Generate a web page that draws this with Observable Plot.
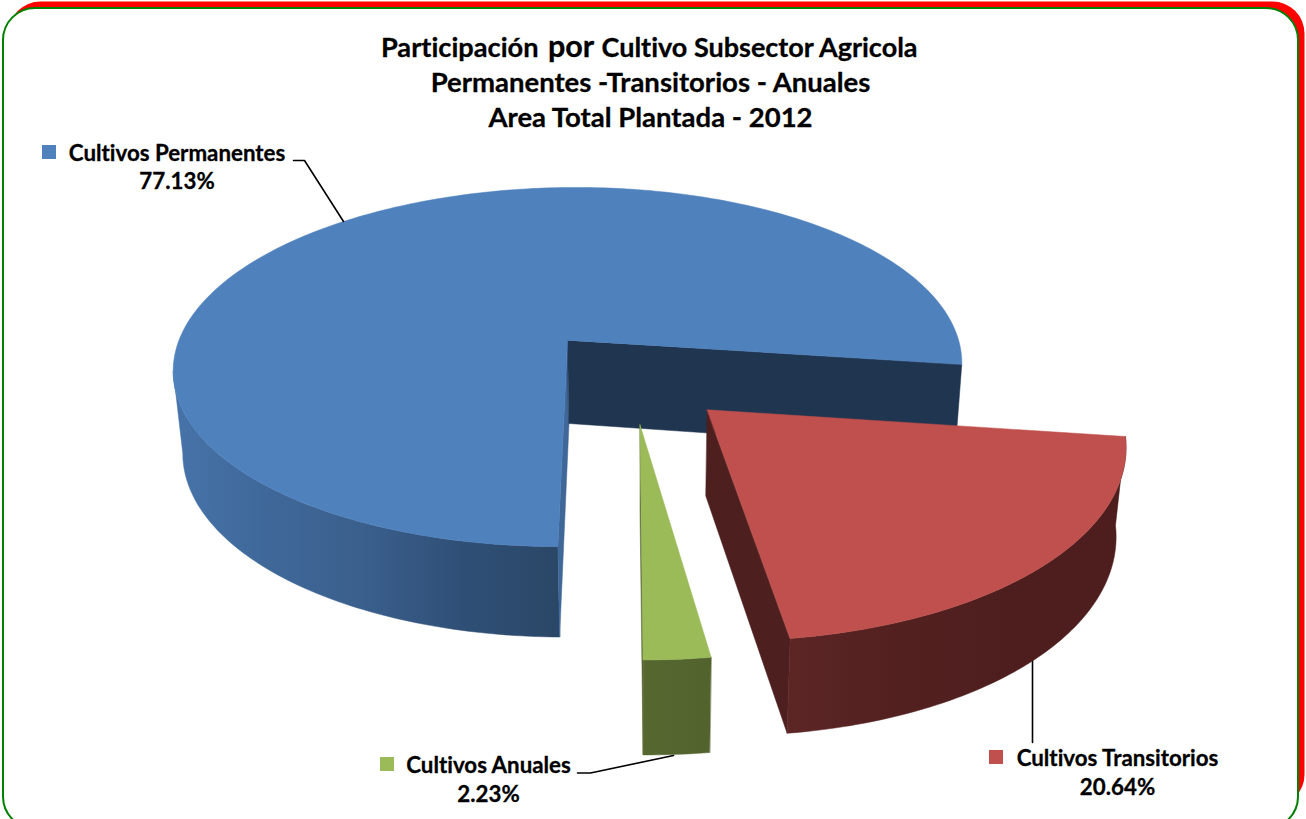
<!DOCTYPE html>
<html><head><meta charset="utf-8">
<style>html,body{margin:0;padding:0;background:#fff}svg{display:block}svg text{font-variant-ligatures:none;font-feature-settings:"liga" 0}</style>
<script src="https://cdn.jsdelivr.net/npm/d3@7"></script>
<script src="https://cdn.jsdelivr.net/npm/@observablehq/plot@0.6"></script>
</head><body><div id="chart"></div>
<script>
// ---- data ----
const categories = ["Cultivos Permanentes", "Cultivos Transitorios", "Cultivos Anuales"];
const shares = [77.13, 20.64, 2.23];
const percentLabels = ["77.13%", "20.64%", "2.23%"];
const titleLines = ["Permanentes -Transitorios - Anuales", "Area Total Plantada - 2012"];
const titleFirstLine = ["Participación", "por", "Cultivo Subsector Agricola"];

// ---- style ----
const topColors = ["#4F81BD", "#C0504D", "#9BBB59"];
const wallStops = [["#4673A9", "#3F6899", "#3A5F8C", "#2F4F76", "#2B4767"],
                   ["#5C2625", "#52201F", "#4E1E1E", "#4E1E1E"],
                   ["#566830", "#52632E"]];
const edgeColors = ["#3F6797", "#4D1F1E", "#556632"];
const navy = "#1F3550";
const FONT = "Lato";

// ---- projection of the tilted disc ----
const W = 1306, H = 819, k = 0.1476;
const topFace = {cx: 567, cy: 340, s: 390, B: 175.6, tilt: 0.01};
const botFace = {cx: 568.5, cy: 423, s: 382, B: 182, tilt: 0.006};
const rad = d => d * Math.PI / 180;
function project(face, X, Z) {
  const den = 1 + k * Z;
  const x = face.cx + face.s * X / den;
  return {x, y: face.cy - face.B * Z / den - face.tilt * (x - face.cx)};
}
const startAngle = 181.2;
let acc = startAngle;
const slices = shares.map((v, i) => {
  const a0 = acc, a1 = acc + v * 3.6; acc = a1;
  return {i, a0, a1};
});
// per slice: explosion radius, explosion direction (degrees), disc radius factor
const explode = [[0, 0, 1], [0.5086, 138.35, 0.992], [0.484, 159, 0.985]];
function pt(face, i, r, a) {
  const [e, dir, f] = explode[i];
  return project(face, e * Math.sin(rad(dir)) + f * r * Math.sin(rad(a)), e * Math.cos(rad(dir)) + f * r * Math.cos(rad(a)));
}
const arcAngles = (a0, a1, step = 1) => {
  const n = Math.ceil((a1 - a0) / step);
  return d3.range(n + 1).map(j => a0 + (a1 - a0) * j / n);
};
function topPoly(s) {
  return [pt(topFace, s.i, 0, 0), ...arcAngles(s.a0, s.a1).map(a => pt(topFace, s.i, 1, a))]
    .map(p => ({...p, id: "top" + s.i, c: topColors[s.i]}));
}
function edgeWall(s, a, c) {
  return [pt(topFace, s.i, 0, 0), pt(topFace, s.i, 1, a), pt(botFace, s.i, 1, a), pt(botFace, s.i, 0, 0)]
    .map(p => ({...p, id: `edge${s.i}-${a}`, c}));
}
function outerWall(s, a0, a1) {
  const as = arcAngles(a0, a1);
  return [...as.map(a => pt(topFace, s.i, 1, a)), ...as.reverse().map(a => pt(botFace, s.i, 1, a))]
    .map(p => ({...p, id: "wall" + s.i, c: `url(#wall${s.i})`}));
}
const [blue, red, green] = slices;
const polyMark = rows => Plot.line(rows, {x: "x", y: "y", z: "id", fill: rows[0].c, stroke: rows[0].c, strokeWidth: 0.5, curve: "linear-closed"});

// wall shading: horizontal gradients in chart pixels
const wallX = [[172, 558], [785, 1125], [640, 710]];
const gradientDefs = () => {
  const defs = d3.create("svg:defs");
  wallStops.forEach((stops, i) => {
    const g = defs.append("linearGradient").attr("id", "wall" + i).attr("gradientUnits", "userSpaceOnUse")
      .attr("x1", wallX[i][0]).attr("x2", wallX[i][1]).attr("y1", 0).attr("y2", 0);
    stops.forEach((c, j) => g.append("stop").attr("offset", j / (stops.length - 1)).attr("stop-color", c));
  });
  return defs.node();
};

// the blue wall runs to the disc's left silhouette, where cos(angle) = -k
const silhouetteAngle = 360 - Math.acos(-k) * 180 / Math.PI;
const layers = [
  outerWall(blue, blue.a0, silhouetteAngle),
  edgeWall(blue, blue.a0, edgeColors[0]),
  edgeWall(blue, blue.a1, navy),
  topPoly(blue),
  edgeWall(green, green.a1, edgeColors[2]),
  outerWall(green, green.a0, green.a1),
  topPoly(green),
  edgeWall(red, red.a1, edgeColors[1]),
  outerWall(red, red.a0, red.a1),
  topPoly(red)
];

const leaders = [
  {id: 0, pts: [[293, 160], [304, 160], [343, 221]]},
  {id: 1, pts: [[1032, 650], [1032, 742]]},
  {id: 2, pts: [[577, 772.5], [590, 772.5], [673, 755]]}
].flatMap(l => l.pts.map(([x, y]) => ({x, y, id: l.id})));

const labelPos = [
  {sx: 42, sy: 145, nx: 176.5, ny: 153, vy: 181},
  {sx: 989, sy: 750, nx: 1117, ny: 758, vy: 787.5},
  {sx: 380, sy: 757, nx: 488, ny: 765, vy: 794.5}
];
const labelRows = categories.map((name, i) => ({name, pct: percentLabels[i], c: topColors[i], ...labelPos[i]}));

const txt = {fontFamily: FONT, fontWeight: "bold", fill: "#000", stroke: "#000", strokeWidth: 0.3};
const titleSize = 27, labelSize = 22.3;

const plot = Plot.plot({
  width: W, height: H, margin: 0,
  x: {domain: [0, W], range: [0, W], axis: null},
  y: {domain: [0, H], range: [0, H], axis: null},
  marks: [
    gradientDefs,
    Plot.frame({fill: "#FF0000", stroke: "none", rx: 32, insetLeft: 8, insetTop: 1, insetRight: 2, insetBottom: 13}),
    Plot.frame({fill: "#fff", stroke: "#008000", strokeWidth: 2, rx: 32, insetLeft: 2.5, insetTop: 7.5, insetRight: 8.5, insetBottom: -9}),
    Plot.line(leaders.filter(d => d.id === 1), {x: "x", y: "y", z: "id", stroke: "#000", strokeWidth: 1.6}),
    ...layers.map(polyMark),
    Plot.line(leaders.filter(d => d.id !== 1), {x: "x", y: "y", z: "id", stroke: "#000", strokeWidth: 1.6}),
    Plot.rect(labelRows, {x1: "sx", x2: d => d.sx + 14, y1: "sy", y2: d => d.sy + 14, fill: "c"}),
    Plot.text(labelRows, {x: "nx", y: "ny", text: "name", fontSize: labelSize, ...txt}),
    Plot.text(labelRows, {x: "nx", y: "vy", text: "pct", fontSize: labelSize, ...txt}),
    Plot.text([titleFirstLine[0]], {x: 538, y: 48, text: d => d, textAnchor: "end", fontSize: titleSize + 0.2, ...txt}),
    Plot.text([titleFirstLine[1]], {x: 570.5, y: 47, text: d => d, textAnchor: "middle", fontSize: titleSize + 3.5, ...txt}),
    Plot.text([titleFirstLine[2]], {x: 601, y: 48, text: d => d, textAnchor: "start", fontSize: titleSize, ...txt}),
    Plot.text(titleLines, {x: 650, y: (d, i) => 83 + i * 35, text: d => d, fontSize: titleSize + 0.5, ...txt})
  ]
});
document.getElementById("chart").append(plot);
</script></body></html>
